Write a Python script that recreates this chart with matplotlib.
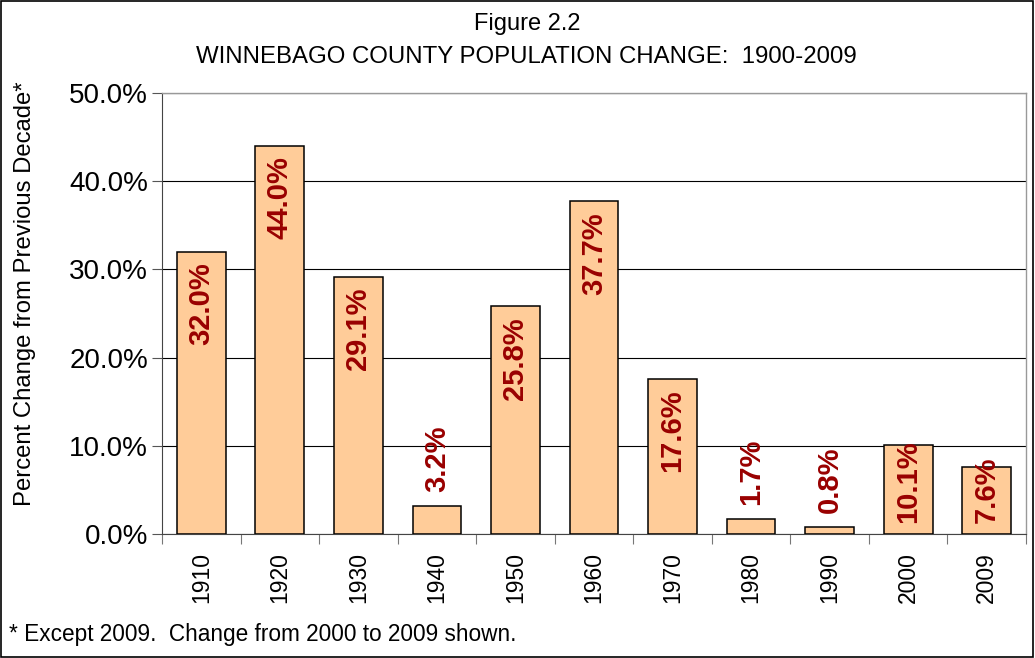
import matplotlib
matplotlib.use("Agg")
import matplotlib.pyplot as plt
from matplotlib.patches import Rectangle
import numpy as np

years = ["1910", "1920", "1930", "1940", "1950", "1960", "1970", "1980", "1990", "2000", "2009"]
changes = [32.0, 44.0, 29.1, 3.2, 25.8, 37.7, 17.6, 1.7, 0.8, 10.1, 7.6]
yticks = [0, 10, 20, 30, 40, 50]

plt.rcParams['font.family'] = ['Liberation Sans', 'DejaVu Sans']

fig = plt.figure(figsize=(10.35, 6.58), dpi=100)
ax = fig.add_axes([0.1565, 0.1884, 0.9913 - 0.1565, 0.8587 - 0.1884])

x = np.arange(len(years))
ax.bar(x, changes, width=0.62, color='#FFCC99', edgecolor='black', linewidth=1.1, zorder=3)

ax.set_xlim(-0.5, len(years) - 0.5)
ax.set_ylim(0, 50)
ax.set_yticks(yticks)
ax.set_yticklabels([f"{v:.1f}%" for v in yticks], fontsize=20)
ax.yaxis.grid(True, color='black', linewidth=0.8, zorder=1)
ax.tick_params(axis='y', length=7, width=0.8, color='#555555', pad=3)

ax.set_xticks(x)
ax.set_xticklabels(years, rotation=90, fontsize=16.5)
ax.set_xticks(np.arange(len(years) + 1) - 0.5, minor=True)
ax.tick_params(axis='x', which='major', length=0, pad=13)
ax.tick_params(axis='x', which='minor', length=7, width=0.8, color='#777777')

for side in ['top', 'right']:
    ax.spines[side].set_color('#999999')
    ax.spines[side].set_linewidth(1.0)
ax.spines['left'].set_color('#444444')
ax.spines['bottom'].set_color('#444444')

for xi, v in zip(x, changes):
    label = f"{v:.1f}%"
    if v < 5:
        ax.text(xi, v + 1.55, label, rotation=90, ha='center', va='bottom',
                fontsize=21, fontweight='bold', color='#990000', zorder=4)
    elif v < 12:
        ax.text(xi, 1.25, label, rotation=90, ha='center', va='bottom',
                fontsize=21, fontweight='bold', color='#990000', zorder=4)
    else:
        ax.text(xi, v - 1.2, label, rotation=90, ha='center', va='top',
                fontsize=21, fontweight='bold', color='#990000', zorder=4)

ax.set_ylabel("Percent Change from Previous Decade*", fontsize=17.2)
ax.yaxis.set_label_coords(-0.146, 0.544)

fig.text(0.509, 0.963, "Figure 2.2", ha='center', va='center', fontsize=17)
fig.text(0.509, 0.913, "WINNEBAGO COUNTY POPULATION CHANGE:  1900-2009",
         ha='center', va='center', fontsize=17.3)
fig.text(0.009, 0.035, "* Except 2009.  Change from 2000 to 2009 shown.",
         ha='left', va='center', fontsize=16.3)

fig.patches.append(Rectangle((0.001, 0.002), 0.997, 0.996, transform=fig.transFigure,
                             fill=False, edgecolor='black', linewidth=1.2))

fig.savefig("out.png", dpi=100)
